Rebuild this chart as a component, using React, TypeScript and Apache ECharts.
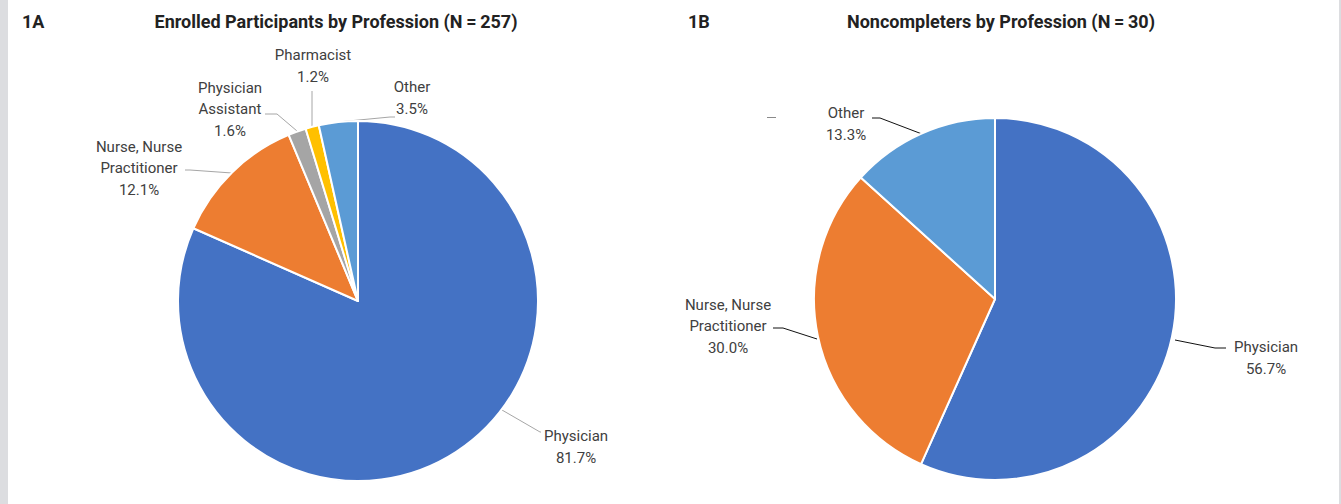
import React, { useEffect, useRef } from "react";
import * as echarts from "echarts";

const enrolledCategories = ["Physician", "Nurse, Nurse\nPractitioner", "Physician\nAssistant", "Pharmacist", "Other"];
const enrolledValues = [81.7, 12.1, 1.6, 1.2, 3.5];
const enrolledColors = ["#4472C4", "#ED7D31", "#A5A5A5", "#FFC000", "#5B9BD5"];

const noncompleterCategories = ["Physician", "Nurse, Nurse\nPractitioner", "Other"];
const noncompleterValues = [56.7, 30.0, 13.3];
const noncompleterColors = ["#4472C4", "#ED7D31", "#5B9BD5"];

const titleA = "Enrolled Participants by Profession (N\u2009=\u2009257)";
const titleB = "Noncompleters by Profession (N\u2009=\u200930)";

// label centre positions and leader-line routes (layout only)
const labelPosA = [[576, 447], [139, 168], [230, 109], [313, 66], [412, 98]];
const leaderA = [
  [[502, 410], [540, 432], [541, 432]],
  [[232, 173], [190, 170], [185, 170]],
  [[297, 131], [277, 114], [265, 114]],
  [[312, 126], [312, 100], [312, 91]],
  [[338, 122], [390, 117], [395, 117]],
];
const labelPosB = [[1266, 358], [728, 326], [846, 124]];
const leaderB = [
  [[1175, 340], [1215, 348], [1226, 348]],
  [[817, 339], [783, 328], [773, 328]],
  [[922, 134], [880, 118], [872, 118]],
];

const FONT = "Roboto, 'Noto Sans', sans-serif";
const TITLE_FONT = "Roboto, sans-serif";

export default function App() {
  const ref = useRef<HTMLDivElement>(null);
  useEffect(() => {
    if (!ref.current) return;
    const chart = echarts.init(ref.current, null, { renderer: "svg" });
    const mk = (cats: string[], vals: number[], colors: string[]) =>
      cats.map((c, i) => ({ name: c, value: vals[i], itemStyle: { color: colors[i] } }));
    const labelCommon = {
      show: true,
      position: "outside",
      formatter: (p: any) => `${p.name}\n${p.value.toFixed(1)}%`,
      fontFamily: FONT,
      fontSize: 15,
      lineHeight: 21.5,
      color: "#404040",
      align: "center",
    };
    const titleStyle = (text: string, align: string) => ({
      text,
      font: `bold 18px ${TITLE_FONT}`,
      fill: "#222",
      align,
      verticalAlign: "middle",
    });
    chart.setOption({
      animation: false,
      backgroundColor: "#ffffff",
      graphic: [
        { type: "rect", shape: { x: 0, y: 0, width: 8, height: 504 }, style: { fill: "#dcdde0" } },
        { type: "rect", shape: { x: 1339, y: 0, width: 2, height: 504 }, style: { fill: "#dcdde0" } },
        { type: "text", x: 22, y: 21, style: titleStyle("1A", "left") },
        { type: "text", x: 336, y: 21, style: titleStyle(titleA, "center") },
        { type: "text", x: 688, y: 21, style: titleStyle("1B", "left") },
        { type: "text", x: 1001, y: 21, style: titleStyle(titleB, "center") },
        { type: "line", shape: { x1: 767, y1: 117.5, x2: 776, y2: 117.5 }, style: { stroke: "#8a8a8a", lineWidth: 1 } },
      ],
      series: [
        {
          type: "pie",
          center: [358, 301],
          radius: 180,
          startAngle: 90,
          clockwise: true,
          itemStyle: { borderColor: "#fff", borderWidth: 2 },
          label: labelCommon,
          labelLine: { show: true, lineStyle: { color: "#a6a6a6", width: 1 } },
          labelLayout: (p: any) => ({
            x: labelPosA[p.dataIndex][0],
            y: labelPosA[p.dataIndex][1],
            align: "center",
            verticalAlign: "middle",
            labelLinePoints: leaderA[p.dataIndex],
          }),
          data: mk(enrolledCategories, enrolledValues, enrolledColors),
        },
        {
          type: "pie",
          center: [995, 299],
          radius: 181,
          startAngle: 90,
          clockwise: true,
          itemStyle: { borderColor: "#fff", borderWidth: 2 },
          label: labelCommon,
          labelLine: { show: true, lineStyle: { color: "#111", width: 1 } },
          labelLayout: (p: any) => ({
            x: labelPosB[p.dataIndex][0],
            y: labelPosB[p.dataIndex][1],
            align: "center",
            verticalAlign: "middle",
            labelLinePoints: leaderB[p.dataIndex],
          }),
          data: mk(noncompleterCategories, noncompleterValues, noncompleterColors),
        },
      ],
    });
    return () => chart.dispose();
  }, []);
  return <div ref={ref} style={{ position: "absolute", left: 0, top: 0, width: 1341, height: 504 }} />;
}
